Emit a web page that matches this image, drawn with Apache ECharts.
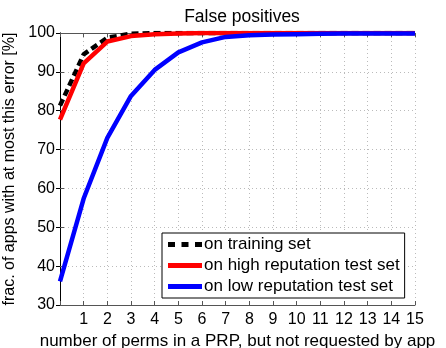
<!DOCTYPE html>
<html>
<head>
<meta charset="utf-8">
<script src="https://cdn.jsdelivr.net/npm/echarts@6/dist/echarts.min.js"></script>
<style>
  html, body { margin: 0; padding: 0; background: #fff; }
  #chart { width: 446px; height: 348px; }
</style>
</head>
<body>
<div id="chart"></div>
<script>
  // number of perms in a PRP, but not requested by app
  var perms = [0, 1, 2, 3, 4, 5, 6, 7, 8, 9, 10, 11, 12, 13, 14, 15];
  // frac. of apps with at most this error [%]
  var trainingSet = [81.3, 94.5, 98.8, 99.8, 100, 100, 100, 100, 100, 100, 100, 100, 100, 100, 100, 100];
  var highRepTest = [77.7, 92.2, 97.8, 99.2, 99.7, 99.9, 100, 100, 100, 100, 100, 100, 100, 100, 100, 100];
  var lowRepTest = [36.1, 57.4, 73.0, 83.8, 90.5, 95.0, 97.6, 99.0, 99.4, 99.6, 99.7, 99.8, 99.9, 99.9, 99.9, 99.9];
  var seriesNames = ['on training set', 'on high reputation test set', 'on low reputation test set'];

  var font = 'Liberation Sans, Arial, sans-serif';
  var axisCol = '#555';

  function pairs(ys) {
    return perms.map(function (x, i) { return [x, ys[i]]; });
  }

  // legend icons: dashed bar for the training set, plain bars for the others
  var dashIcon = 'path://M0,0H7V5H0Z M13.5,0H20.5V5H13.5Z M27,0H34V5H27Z';

  var chart = echarts.init(document.getElementById('chart'));
  var option = {
    animation: false,
    backgroundColor: '#fff',
    textStyle: { fontFamily: font },
    title: {
      text: 'False positives',
      left: 237, top: 3,
      textAlign: 'center',
      textStyle: { fontSize: 17.5, fontWeight: 'normal', color: '#000', fontFamily: font }
    },
    legend: {
      orient: 'vertical',
      left: 162, top: 233,
      padding: [3, 5, 3, 6],
      itemGap: 4,
      itemWidth: 34, itemHeight: 5,
      backgroundColor: '#fff',
      borderColor: '#000', borderWidth: 1,
      borderRadius: 0,
      textStyle: { fontSize: 17, color: '#000', fontFamily: font, padding: [0, 0, 0, -3] },
      data: [
        { name: seriesNames[0], icon: dashIcon },
        { name: seriesNames[1], icon: 'rect' },
        { name: seriesNames[2], icon: 'rect' }
      ]
    },
    grid: { left: 60, right: 31, top: 33, bottom: 43, show: false, outerBoundsMode: 'none' },
    xAxis: [{
      type: 'value', min: 0, max: 15, interval: 1,
      name: 'number of perms in a PRP, but not requested by app',
      nameLocation: 'middle', nameGap: 19,
      nameTextStyle: { fontSize: 17, color: '#000', fontFamily: font },
      axisLine: { show: true, lineStyle: { color: axisCol, width: 1 } },
      axisTick: { show: true, inside: true, length: 4, lineStyle: { color: axisCol } },
      axisLabel: {
        fontSize: 16, color: '#000', margin: 7, fontFamily: font,
        formatter: function (v) { return v === 0 ? '' : String(v); }
      },
      splitLine: { show: true, lineStyle: { color: '#bbb', type: [1, 3], width: 1 } }
    }, {
      type: 'value', min: 0, max: 15, interval: 1, position: 'top',
      axisLine: { show: true, lineStyle: { color: axisCol, width: 1 } },
      axisTick: { show: true, inside: true, length: 4, lineStyle: { color: axisCol } },
      axisLabel: { show: false },
      splitLine: { show: false }
    }],
    yAxis: [{
      type: 'value', min: 30, max: 100, interval: 10,
      name: 'frac. of apps with at most this error [%]',
      nameLocation: 'middle', nameGap: 34,
      nameTextStyle: { fontSize: 16, color: '#000', fontFamily: font },
      axisLine: { show: true, lineStyle: { color: axisCol, width: 1 } },
      axisTick: { show: true, inside: true, length: 4, lineStyle: { color: axisCol } },
      axisLabel: { fontSize: 16, color: '#000', margin: 5, fontFamily: font },
      splitLine: { show: true, lineStyle: { color: '#bbb', type: [1, 3], width: 1 } }
    }, {
      type: 'value', min: 30, max: 100, interval: 10, position: 'right',
      axisLine: { show: true, lineStyle: { color: '#000', width: 1 } },
      axisTick: { show: true, inside: true, length: 4, lineStyle: { color: '#000' } },
      axisLabel: { show: false },
      splitLine: { show: false }
    }],
    series: [{
      name: seriesNames[0], type: 'line', data: pairs(trainingSet),
      showSymbol: false, symbol: 'none',
      color: '#000',
      lineStyle: { color: '#000', width: 4.5, type: [7, 4] }
    }, {
      name: seriesNames[1], type: 'line', data: pairs(highRepTest),
      showSymbol: false, symbol: 'none',
      color: '#ff0000',
      lineStyle: { color: '#ff0000', width: 4.5 }
    }, {
      name: seriesNames[2], type: 'line', data: pairs(lowRepTest),
      showSymbol: false, symbol: 'none',
      color: '#0000ff',
      lineStyle: { color: '#0000ff', width: 4.5 }
    }]
  };
  chart.setOption(option);
</script>
</body>
</html>
